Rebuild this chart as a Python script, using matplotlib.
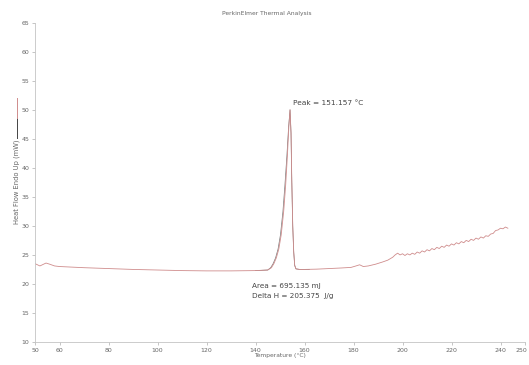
import matplotlib
matplotlib.use("Agg")
import matplotlib.pyplot as plt
from matplotlib.lines import Line2D
from matplotlib.transforms import ScaledTranslation

# ---- data ----
temp_red = [50, 51, 52, 53, 54.5, 56, 58, 60, 70, 80, 90, 100, 110, 120, 130, 140, 145,
            146.5, 147.5, 148.5, 149.5, 150.5, 151.5, 152.3, 153, 153.6, 154.1, 154.5,
            154.8, 155.2, 155.6, 156, 156.5, 158, 160, 165, 170, 175, 179, 181, 182.5,
            184, 186, 189, 192, 194, 196,
            197, 198, 199, 200, 201, 202, 203, 204, 205, 206, 207, 208, 209, 210, 211,
            212, 213, 214, 215, 216, 217, 218, 219, 220, 221, 222, 223, 224, 225, 226,
            227, 228, 229, 230, 231, 232, 233, 234, 235, 236, 237, 238, 239, 240, 241,
            242, 243]
flow_red = [23.5, 23.3, 23.1, 23.3, 23.6, 23.4, 23.1, 23.0, 22.8, 22.65, 22.5, 22.4, 22.3,
            22.25, 22.25, 22.3, 22.4,
            22.8, 23.5, 24.5, 26.0, 28.5, 32.5, 37.0, 42.0, 47.0, 50.0, 46.0,
            38.0, 30.0, 25.5, 23.2, 22.6, 22.5, 22.5, 22.55, 22.65, 22.75, 22.85, 23.1, 23.3,
            23.0, 23.1, 23.4, 23.8, 24.1, 24.6,
            25.0, 25.3, 25.0, 25.2, 24.9, 25.2, 25.0, 25.3, 25.1, 25.5, 25.3, 25.7, 25.5,
            25.9, 25.7, 26.1, 25.9, 26.3, 26.1, 26.5, 26.3, 26.7, 26.5, 26.9, 26.7, 27.1,
            26.9, 27.3, 27.1, 27.5, 27.3, 27.7, 27.5, 27.9, 27.7, 28.1, 27.9, 28.3, 28.2,
            28.6, 28.7, 29.2, 29.3, 29.6, 29.5, 29.8, 29.6]

temp_dark = [140, 145, 146.2, 147.2, 148.2, 149.2, 150.2, 151.2, 152.0, 152.8, 153.5,
             154.1, 154.5, 154.8, 155.2, 155.6, 156, 156.5, 158, 162]
flow_dark = [22.3, 22.4, 22.8, 23.5, 24.5, 26.0, 28.5, 32.5, 37.0, 42.0, 47.0,
             50.0, 46.0, 38.0, 30.0, 25.5, 23.2, 22.6, 22.5, 22.5]

x_ticks = [50, 60, 80, 100, 120, 140, 160, 180, 200, 220, 240, 250]
y_ticks = list(range(10, 66, 5))

RED = "#cf8c8c"
DARK = "#777777"
GRAY = "#666666"
TXT = "#444444"

fig = plt.figure(figsize=(5.29, 3.65), dpi=100)
ax = fig.add_axes([35 / 529, 1 - 342 / 365, 490 / 529, (342 - 22.7) / 365])

ax.plot(temp_dark, flow_dark, color=DARK, lw=0.5)
ax.plot(temp_red, flow_red, color=RED, lw=0.6)

ax.set_xlim(50, 250)
ax.set_ylim(10, 65)
ax.set_xticks(x_ticks)
ax.set_yticks(y_ticks)
ax.tick_params(labelsize=4.5, colors="#999999", length=2, width=0.4, pad=2,
               labelcolor=GRAY)
for s in ["top", "right"]:
    ax.spines[s].set_visible(False)
for s in ["left", "bottom"]:
    ax.spines[s].set_color("#c4c4c4")
    ax.spines[s].set_linewidth(0.6)

# keep the "250" label inside the picture
last = ax.get_xticklabels()[-1]
last.set_transform(last.get_transform() + ScaledTranslation(-4 / 100, 0, fig.dpi_scale_trans))

ax.set_xlabel("Temperature (°C)", fontsize=4.3, color=GRAY, labelpad=0)
fig.text(17 / 529, 1 - 182 / 365, "Heat Flow Endo Up (mW)", rotation=90,
         fontsize=4.9, color=GRAY, ha="center", va="center")
fig.add_artist(Line2D([17 / 529, 17 / 529], [1 - 138 / 365, 1 - 118 / 365],
                      color="#444444", lw=0.7))
fig.add_artist(Line2D([17 / 529, 17 / 529], [1 - 118 / 365, 1 - 98 / 365],
                      color=RED, lw=0.7))

fig.text(267 / 529, 1 - 14 / 365, "PerkinElmer Thermal Analysis",
         fontsize=4.3, color=GRAY, ha="center", va="center")

ax.text(155.3, 51.2, "Peak = 151.157 °C", fontsize=5.3, color=TXT,
        ha="left", va="center")
ax.text(138.6, 19.7, "Area = 695.135 mJ", fontsize=5.2, color=TXT,
        ha="left", va="center")
ax.text(138.6, 17.9, "Delta H = 205.375  J/g", fontsize=5.2, color=TXT,
        ha="left", va="center")

fig.savefig("out.png", dpi=100)
